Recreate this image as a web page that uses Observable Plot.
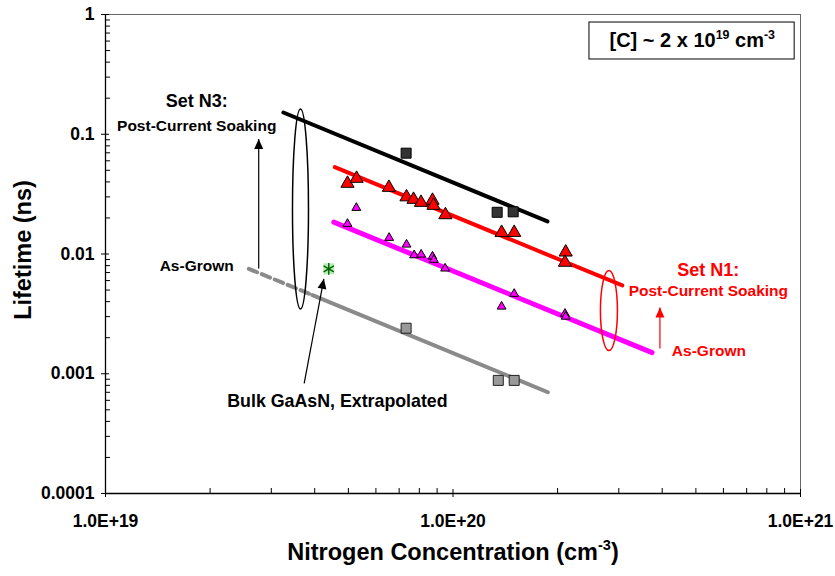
<!DOCTYPE html>
<html><head><meta charset="utf-8">
<script src="https://cdn.jsdelivr.net/npm/d3@7"></script>
<script src="https://cdn.jsdelivr.net/npm/@observablehq/plot@0.6"></script>
<style>body{margin:0;background:#fff}</style>
</head><body><div id="chart"></div>
<script>
// ---------- data ----------
const n3PostN   = [7.33e19, 1.34e20, 1.49e20];
const n3PostTau = [0.0695, 0.0223, 0.0225];
const n3GrownN   = [7.33e19, 1.35e20, 1.50e20];
const n3GrownTau = [0.0024, 0.00088, 0.00088];
const n1PostN   = [4.97e19, 5.28e19, 6.54e19, 7.35e19, 7.70e19, 8.09e19, 8.73e19, 8.79e19, 9.51e19, 1.38e20, 1.50e20, 2.11e20, 2.10e20];
const n1PostTau = [0.0388, 0.0427, 0.0359, 0.0299, 0.0285, 0.0269, 0.0280, 0.0254, 0.0212, 0.0151, 0.0151, 0.01035, 0.0085];
const n1GrownN   = [5.27e19, 4.97e19, 6.55e19, 7.35e19, 7.73e19, 8.10e19, 8.73e19, 8.81e19, 9.49e19, 1.50e20, 1.38e20, 2.10e20, 2.11e20];
const n1GrownTau = [0.0243, 0.01787, 0.01365, 0.0120, 0.00977, 0.0099, 0.00953, 0.00895, 0.00757, 0.00465, 0.00364, 0.00317, 0.0030];
const bulkN = [4.39e19];
const bulkTau = [0.00752];

// fitted lines (end points)
const fitN3PostN = [3.25e19, 1.87e20];
const fitN3PostTau = [0.152, 0.0187];
const fitN1PostN = [4.57e19, 3.07e20];
const fitN1PostTau = [0.0531, 0.00546];
const fitN1GrownN = [4.54e19, 3.74e20];
const fitN1GrownTau = [0.01845, 0.0015];
const fitN3GrownDashN = [2.585e19, 3.94e19];
const fitN3GrownDashTau = [0.00752, 0.00454];
const fitN3GrownN = [3.94e19, 1.875e20];
const fitN3GrownTau = [0.00454, 0.000701];

// ticks
const xMajor = [1e19, 1e20, 1e21];
const xLabels = ["1.0E+19", "1.0E+20", "1.0E+21"];
const xMinor = [2e19,3e19,4e19,5e19,6e19,7e19,8e19,9e19,2e20,3e20,4e20,5e20,6e20,7e20,8e20,9e20];
const yMajor = [1e-4, 1e-3, 1e-2, 1e-1, 1];
const yLabels = ["0.0001", "0.001", "0.01", "0.1", "1"];
const yMinor = [2e-4,3e-4,4e-4,5e-4,6e-4,7e-4,8e-4,9e-4,2e-3,3e-3,4e-3,5e-3,6e-3,7e-3,8e-3,9e-3,
                2e-2,3e-2,4e-2,5e-2,6e-2,7e-2,8e-2,9e-2,2e-1,3e-1,4e-1,5e-1,6e-1,7e-1,8e-1,9e-1];

// annotations (data coordinates)
const setLabelsBlack = [{n: 1.83e19, tau: 0.188, text: "Set N3:"}];
const setLabelsRed = [{n: 5.43e20, tau: 0.00728, text: "Set N1:"}];
const subLabelsBlack = [{n: 1.83e19, tau: 0.118, text: "Post-Current Soaking"}, {n: 1.83e19, tau: 0.00787, text: "As-Grown"}];
const subLabelsRed = [{n: 5.43e20, tau: 0.00486, text: "Post-Current Soaking"}, {n: 5.45e20, tau: 0.00155, text: "As-Grown"}];
const bulkLabel = [{n: 4.65e19, tau: 0.000592, text: "Bulk GaAsN, Extrapolated"}];
const arrowsBlack = [{n1: 2.76e19, t1: 0.00757, n2: 2.76e19, t2: 0.0912, angle: 0},
                     {n1: 3.73e19, t1: 0.00083, n2: 4.25e19, t2: 0.00621, angle: 11}];
const arrowsRed = [{n1: 3.94e20, t1: 0.001625, n2: 3.94e20, t2: 0.00357, angle: 0}];
const ellipseBlack = [{n: 3.64e19, tau: 0.0238}];
const ellipseRed = [{n: 2.81e20, tau: 0.00337}];
const boxRect = [{n1: 2.47e20, n2: 9.62e20, t1: 0.857, t2: 0.421}];
const boxText = [{n: 4.88e20, tau: 0.601, text: "[C] ~ 2 x 10^{19} cm^{-3}"}];

const pts = (xs, ys) => xs.map((x, i) => ({n: x, tau: ys[i]}));

const font = "'Liberation Sans', Arial, Helvetica, sans-serif";
const ellipseSym = (rx, ry) => ({draw(ctx) {
  const k = 0.5523;
  ctx.moveTo(rx, 0);
  ctx.bezierCurveTo(rx, ry*k, rx*k, ry, 0, ry);
  ctx.bezierCurveTo(-rx*k, ry, -rx, ry*k, -rx, 0);
  ctx.bezierCurveTo(-rx, -ry*k, -rx*k, -ry, 0, -ry);
  ctx.bezierCurveTo(rx*k, -ry, rx, -ry*k, rx, 0);
  ctx.closePath();
}});
const headSym = {draw(ctx) { ctx.moveTo(0, 0); ctx.lineTo(-4.5, 10); ctx.lineTo(4.5, 10); ctx.closePath(); }};

const arrowMarks = (data, color) => [
  Plot.link(data, {x1: "n1", y1: "t1", x2: "n2", y2: "t2", stroke: color, strokeWidth: 1.2}),
  Plot.dot(data, {x: "n2", y: "t2", symbol: headSym, fill: color, stroke: "none", rotate: "angle"})
];

const chart = Plot.plot({
  width: 835, height: 576,
  marginLeft: 105, marginRight: 35, marginTop: 14, marginBottom: 83,
  x: {type: "log", domain: [1e19, 1e21]},
  y: {type: "log", domain: [1e-4, 1]},
  style: {fontFamily: font, fontWeight: "bold", background: "#fff", overflow: "visible"},
  marks: [
    Plot.frame({stroke: "#666", strokeWidth: 1}),
    Plot.ruleX([1e19], {stroke: "#000", strokeWidth: 1.3}),
    Plot.ruleY([1e-4], {stroke: "#000", strokeWidth: 1.3}),
    // ticks
    Plot.axisX({ticks: xMinor, tickSize: 5, dy: -5, tickFormat: () => "", label: null}),
    Plot.axisX({ticks: xMajor, tickSize: 8, dy: -4, tickFormat: () => "", label: null}),
    Plot.axisX({ticks: xMajor, tickSize: 0, tickPadding: 21, fontSize: 17.5, fill: "#000",
                tickFormat: d => xLabels[xMajor.indexOf(d)], label: null}),
    Plot.axisY({ticks: yMinor, tickSize: 5, dx: 5, tickFormat: () => "", label: null}),
    Plot.axisY({ticks: yMajor, tickSize: 8, dx: 4, tickFormat: () => "", label: null}),
    Plot.axisY({ticks: yMajor, tickSize: 0, tickPadding: 11, fontSize: 17.5, fill: "#000",
                tickFormat: d => yLabels[yMajor.indexOf(d)], label: null}),
    // axis titles
    Plot.text(["Lifetime (ns)"], {frameAnchor: "left", textAnchor: "middle", lineAnchor: "middle", rotate: -90, dx: -82, dy: -4, fontSize: 23.5, fill: "#000"}),
    Plot.text(["Nitrogen Concentration (cm^{-3})"], {frameAnchor: "bottom", textAnchor: "middle", lineAnchor: "middle", dy: 59, fontSize: 23.5, fill: "#000"}),
    // fitted lines
    Plot.line(pts(fitN3GrownDashN, fitN3GrownDashTau), {x: "n", y: "tau", stroke: "#8a8a8a", strokeWidth: 4, strokeDasharray: "9,5"}),
    Plot.line(pts(fitN3GrownN, fitN3GrownTau), {x: "n", y: "tau", stroke: "#8a8a8a", strokeWidth: 4}),
    Plot.line(pts(fitN1GrownN, fitN1GrownTau), {x: "n", y: "tau", stroke: "#ff00ff", strokeWidth: 5}),
    Plot.line(pts(fitN1PostN, fitN1PostTau), {x: "n", y: "tau", stroke: "#ff0000", strokeWidth: 4}),
    Plot.line(pts(fitN3PostN, fitN3PostTau), {x: "n", y: "tau", stroke: "#000", strokeWidth: 4}),
    // data points
    Plot.dot(pts(n3PostN, n3PostTau), {x: "n", y: "tau", symbol: "square", r: 5.64, fill: "#333", stroke: "#000", strokeWidth: 1}),
    Plot.dot(pts(n3GrownN, n3GrownTau), {x: "n", y: "tau", symbol: "square", r: 5.64, fill: "#999", stroke: "#222", strokeWidth: 1}),
    Plot.dot(pts(n1PostN, n1PostTau), {x: "n", y: "tau", symbol: "triangle", r: 4.9, fill: "#ff0000", stroke: "#000", strokeWidth: 1}),
    Plot.dot(pts(n1GrownN, n1GrownTau), {x: "n", y: "tau", symbol: "triangle", r: 3.3, fill: "#ff00ff", stroke: "#000", strokeWidth: 1}),
    Plot.dot(pts(bulkN, bulkTau), {x: "n", y: "tau", symbol: "square", r: 6.2, fill: "#b4eab4", stroke: "none"}),
    Plot.dot(pts(bulkN, bulkTau), {x: "n", y: "tau", symbol: "asterisk", r: 5.6, stroke: "#006000", strokeWidth: 1.4}),
    // ellipses
    Plot.dot(ellipseBlack, {x: "n", y: "tau", symbol: ellipseSym(8, 100), fill: "none", stroke: "#000", strokeWidth: 1.5}),
    Plot.dot(ellipseRed, {x: "n", y: "tau", symbol: ellipseSym(8.5, 40), fill: "none", stroke: "#ff0000", strokeWidth: 1.5}),
    // arrows
    ...arrowMarks(arrowsBlack, "#000"),
    ...arrowMarks(arrowsRed, "#ff0000"),
    // labels
    Plot.text(setLabelsBlack, {x: "n", y: "tau", text: "text", fontSize: 18, fill: "#000"}),
    Plot.text(setLabelsRed, {x: "n", y: "tau", text: "text", fontSize: 18, fill: "#ff0000"}),
    Plot.text(subLabelsBlack, {x: "n", y: "tau", text: "text", fontSize: 15.5, fill: "#000"}),
    Plot.text(subLabelsRed, {x: "n", y: "tau", text: "text", fontSize: 15.5, fill: "#ff0000"}),
    Plot.text(bulkLabel, {x: "n", y: "tau", text: "text", fontSize: 17.8, fill: "#000"}),
    // concentration box
    Plot.rect(boxRect, {x1: "n1", x2: "n2", y1: "t1", y2: "t2", fill: "#fff", stroke: "#000", strokeWidth: 1}),
    Plot.text(boxText, {x: "n", y: "tau", text: "text", fontSize: 20, fill: "#000"})
  ]
});

document.getElementById("chart").appendChild(chart);

// superscripts: text written as ^{...}
d3.select(chart).selectAll("text").each(function() {
  const s = this.textContent;
  if (!s.includes("^{")) return;
  const fs = parseFloat(getComputedStyle(this).fontSize) || 16;
  const el = d3.select(this);
  el.text(null);
  let raised = false;
  for (const p of s.split(/(\^\{[^}]*\})/)) {
    if (!p) continue;
    if (p.startsWith("^{")) {
      el.append("tspan").attr("font-size", fs * 0.62).attr("dy", -fs * 0.42).text(p.slice(2, -1));
      raised = true;
    } else {
      const ts = el.append("tspan").text(p);
      if (raised) { ts.attr("dy", fs * 0.42); raised = false; }
    }
  }
});
</script>
</body></html>
